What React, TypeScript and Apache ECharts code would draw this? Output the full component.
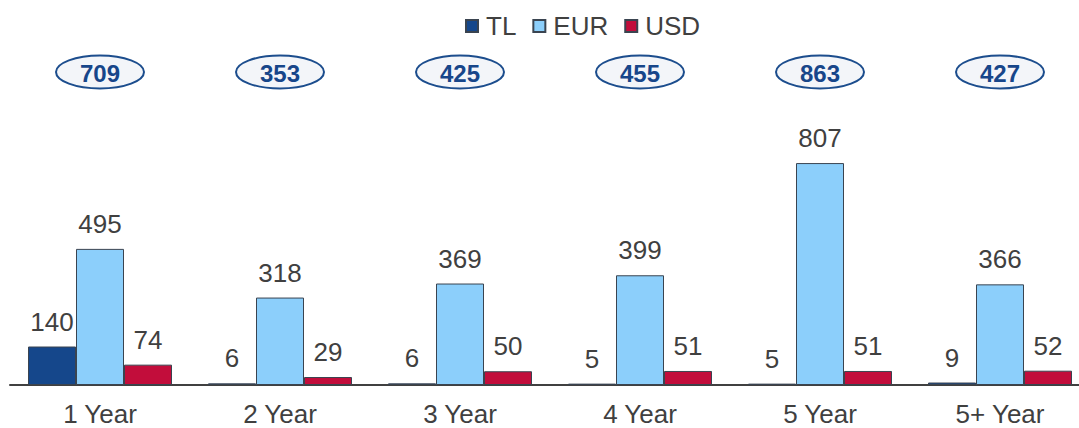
import React, { useEffect, useRef } from "react";
import * as echarts from "echarts";

const categories = ["1 Year", "2 Year", "3 Year", "4 Year", "5 Year", "5+ Year"];
const tlValues = [140, 6, 6, 5, 5, 9];
const eurValues = [495, 318, 369, 399, 807, 366];
const usdValues = [74, 29, 50, 51, 51, 52];
const totals = [709, 353, 425, 455, 863, 427];

const FONT = "Liberation Sans, Arial, sans-serif";
const TEXT = "#404040";

export default function App() {
  const ref = useRef<HTMLDivElement>(null);
  useEffect(() => {
    if (!ref.current) return;
    const chart = echarts.init(ref.current, undefined, { renderer: "svg" });
    const label = {
      show: true,
      position: "top" as const,
      distance: 12,
      color: TEXT,
      fontSize: 26,
      fontFamily: FONT,
    };
    const border = { borderColor: "#3a4450", borderWidth: 1 };
    chart.setOption({
      animation: false,
      textStyle: { fontFamily: FONT },
      legend: {
        top: 8,
        left: 460,
        icon: "rect",
        itemWidth: 12,
        itemHeight: 12,
        itemGap: 16,
        textStyle: { fontSize: 26, color: TEXT, fontFamily: FONT, padding: [0, 0, 0, 3] },
        data: ["TL", "EUR", "USD"],
      },
      grid: { left: 10, right: 0, top: 110, height: 275 },
      xAxis: {
        type: "category",
        data: categories,
        axisTick: { show: false },
        axisLine: { lineStyle: { color: "#404040", width: 2 } },
        axisLabel: { color: TEXT, fontSize: 26, fontFamily: FONT, margin: 16 },
      },
      yAxis: { type: "value", min: 0, max: 1000, show: false, splitLine: { show: false } },
      series: [
        {
          name: "TL",
          type: "bar",
          data: tlValues,
          barWidth: 48,
          barGap: "0%",
          itemStyle: { color: "#15478b", ...border },
          label,
        },
        {
          name: "EUR",
          type: "bar",
          data: eurValues,
          barWidth: 48,
          barGap: "0%",
          itemStyle: { color: "#8ccffb", ...border },
          label,
        },
        {
          name: "USD",
          type: "bar",
          data: usdValues,
          barWidth: 48,
          barGap: "0%",
          itemStyle: { color: "#c20d3b", ...border },
          label,
        },
      ],
    });
    const graphics: any[] = [];
    totals.forEach((t, i) => {
      const p = chart.convertToPixel({ xAxisIndex: 0 }, categories[i]) as number;
      const x = typeof p === "number" ? p : (p as any)[0];
      graphics.push({
        type: "ellipse",
        shape: { cx: x, cy: 72, rx: 44, ry: 16.5 },
        style: { fill: "#f3f5f9", stroke: "#1c4d8d", lineWidth: 2 },
        z: 10,
      });
      graphics.push({
        type: "text",
        x,
        y: 73,
        style: {
          text: String(t),
          fill: "#17468a",
          font: `bold 24px ${FONT}`,
          align: "center",
          verticalAlign: "middle",
        },
        z: 11,
      });
    });
    chart.setOption({ graphic: graphics });
    return () => chart.dispose();
  }, []);
  return (
    <div style={{ position: "absolute", left: 0, top: 0, width: 1079, height: 428, overflow: "hidden", background: "#fff" }}>
      <div ref={ref} style={{ width: 1090, height: 428 }} />
    </div>
  );
}
